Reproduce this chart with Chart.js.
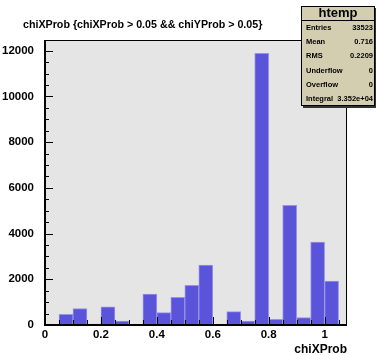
<!DOCTYPE html>
<html>
<head>
<meta charset="utf-8">
<script src="https://cdn.jsdelivr.net/npm/chart.js@4"></script>
<style>
  body { margin: 0; background: #fff; }
  canvas { display: block; }
</style>
</head>
<body>
<canvas id="histo" width="376" height="355"></canvas>
<script>
// histogram bins (centers, width 0.05) and counts
var binCenters = [0.075, 0.125, 0.175, 0.225, 0.275, 0.325, 0.375, 0.425, 0.475, 0.525,
                  0.575, 0.625, 0.675, 0.725, 0.775, 0.825, 0.875, 0.925, 0.975, 1.025];
var binCounts = [468, 713, 40, 800, 175, 20, 1356, 538, 1212, 1737,
                 2625, 20, 582, 175, 11886, 250, 5236, 320, 3631, 1925];

var xTickValues = [0, 0.2, 0.4, 0.6, 0.8, 1.0];
var yTickValues = [0, 2000, 4000, 6000, 8000, 10000, 12000];

var titleText = "chiXProb {chiXProb > 0.05 && chiYProb > 0.05}";
var axisTitle = "chiXProb";
var statsName = "htemp";
var statsRows = [
  ["Entries", "33523"],
  ["Mean", "0.716"],
  ["RMS", "0.2209"],
  ["Underflow", "0"],
  ["Overflow", "0"],
  ["Integral", "3.352e+04"]
];

var fontFam = "'Liberation Sans', Arial, sans-serif";

// ROOT-style frame, inner ticks, title and stats box
var rootStyle = {
  id: "rootStyle",
  beforeDraw: function (chart) {
    var ctx = chart.ctx, a = chart.chartArea;
    ctx.save();
    ctx.fillStyle = "#fff";
    ctx.fillRect(0, 0, chart.width, chart.height);
    ctx.fillStyle = "#e5e5e5";
    ctx.fillRect(a.left, a.top, a.right - a.left, a.bottom - a.top);
    ctx.restore();
  },
  afterDatasetsDraw: function (chart) {
    var ctx = chart.ctx, a = chart.chartArea;
    var xs = chart.scales.x, ys = chart.scales.y;
    ctx.save();
    ctx.strokeStyle = "#000";
    ctx.lineWidth = 1;
    ctx.strokeRect(a.left + 0.5, a.top + 0.5, a.right - a.left - 1, a.bottom - a.top);

    // inner tick marks
    ctx.beginPath();
    for (var v = 0; v <= 12000; v += 500) {
      var py = Math.round(ys.getPixelForValue(v)) + 0.5;
      var len = v % 2000 === 0 ? 8 : 4;
      ctx.moveTo(a.left, py);
      ctx.lineTo(a.left + len, py);
    }
    for (var i = 0; i <= 21; i++) {
      var px = Math.round(xs.getPixelForValue(i * 0.05)) + 0.5;
      var tl = i % 4 === 0 ? 8 : 5;
      ctx.moveTo(px, a.bottom);
      ctx.lineTo(px, a.bottom - tl);
    }
    ctx.stroke();

    // axis lines
    ctx.lineWidth = 2;
    ctx.beginPath();
    ctx.moveTo(a.left, a.top);
    ctx.lineTo(a.left, a.bottom);
    ctx.lineTo(a.right, a.bottom);
    ctx.stroke();
    ctx.restore();
  },
  afterDraw: function (chart) {
    var ctx = chart.ctx, a = chart.chartArea;
    ctx.save();
    ctx.fillStyle = "#000";
    ctx.textBaseline = "middle";
    ctx.font = "bold 10.7px " + fontFam;
    ctx.textAlign = "left";
    ctx.fillText(titleText, 23, 25);

    ctx.font = "bold 12px " + fontFam;
    ctx.textAlign = "right";
    ctx.fillText(axisTitle, a.right, 350);

    // stats box
    var bx = 301, by = 6, bw = 74, bh = 100;
    ctx.fillStyle = "#333";
    ctx.fillRect(bx + 2, by + 2, bw, bh);
    ctx.fillStyle = "#d4ceb0";
    ctx.fillRect(bx, by, bw, bh);
    ctx.strokeStyle = "#000";
    ctx.lineWidth = 1;
    ctx.strokeRect(bx + 0.5, by + 0.5, bw - 1, bh - 1);
    ctx.beginPath();
    ctx.moveTo(bx, by + 14.5);
    ctx.lineTo(bx + bw, by + 14.5);
    ctx.stroke();

    ctx.fillStyle = "#000";
    ctx.font = "bold 13px " + fontFam;
    ctx.textAlign = "center";
    ctx.fillText(statsName, bx + bw / 2, by + 7.5);

    ctx.font = "bold 7.5px " + fontFam;
    for (var r = 0; r < statsRows.length; r++) {
      var ty = 28 + r * 14.2;
      ctx.textAlign = "left";
      ctx.fillText(statsRows[r][0], bx + 5, ty);
      ctx.textAlign = "right";
      ctx.fillText(statsRows[r][1], bx + bw - 2, ty);
    }
    ctx.restore();
  }
};

var ctx = document.getElementById("histo").getContext("2d");
var histo = new Chart(ctx, {
  type: "bar",
  data: {
    datasets: [
      {
        data: binCenters.map(function (c, i) { return { x: c, y: binCounts[i] }; }),
        backgroundColor: "#5a54db",
        borderColor: "#9893e6",
        borderWidth: 1,
        borderSkipped: "bottom",
        barPercentage: 1,
        categoryPercentage: 1
      }
    ]
  },
  options: {
    responsive: false,
    animation: false,
    layout: { padding: { top: 40, right: 29, left: 0, bottom: 0 } },
    plugins: {
      legend: { display: false },
      tooltip: { enabled: false }
    },
    scales: {
      x: {
        type: "linear",
        min: 0,
        max: 1.08,
        offset: false,
        grid: { display: false },
        border: { display: false },
        afterBuildTicks: function (scale) {
          scale.ticks = xTickValues.map(function (v) { return { value: v }; });
        },
        afterFit: function (scale) { scale.height = 30; },
        ticks: {
          autoSkip: false,
          maxRotation: 0,
          padding: -5,
          color: "#000",
          font: { family: fontFam, size: 11.5, weight: "bold" },
          callback: function (v) { return v === 0 ? "0" : v === 1 ? "1" : v.toFixed(1); }
        }
      },
      y: {
        min: 0,
        max: 12470,
        grid: { display: false },
        border: { display: false },
        afterBuildTicks: function (scale) {
          scale.ticks = yTickValues.map(function (v) { return { value: v }; });
        },
        afterFit: function (scale) { scale.width = 45; },
        ticks: {
          autoSkip: false,
          padding: 3,
          color: "#000",
          font: { family: fontFam, size: 11.5, weight: "bold" },
          callback: function (v) { return String(v); }
        }
      }
    }
  },
  plugins: [rootStyle]
});
</script>
</body>
</html>
